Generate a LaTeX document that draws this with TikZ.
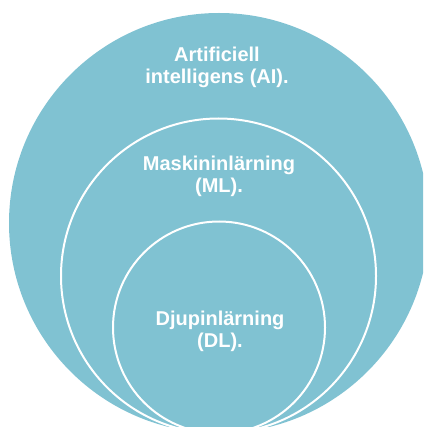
\documentclass[tikz,border=0pt]{standalone}
\usepackage{fontspec}
\setmainfont[Ligatures=NoCommon]{Liberation Sans}
\usepackage{tikz}

\definecolor{aiblue}{RGB}{128,194,210}

\tikzset{
  ring/.style={fill=aiblue, draw=white, line width=2pt},
  label/.style={text=white, font=\fontsize{20}{22}\selectfont\bfseries, align=center, inner sep=0pt}
}

\begin{document}
\begin{tikzpicture}[x=1pt,y=-1pt]
    \useasboundingbox (0,0) rectangle (423,427);
    \clip (0,0) rectangle (423,427);
    % nested fields
    \fill[aiblue] (219,223) circle (210);
    \draw[ring] (218.5,276) circle (157.5);
    \draw[ring] (219,327.5) circle (106);
    % texts
    \node[label] (ai) at (217,67) {Artificiell\\intelligens (AI).};
    \node[label] (ml) at (219,176) {Maskininlärning\\(ML).};
    \node[label] (dl) at (220,331) {Djupinlärning\\(DL).};
\end{tikzpicture}
\end{document}
